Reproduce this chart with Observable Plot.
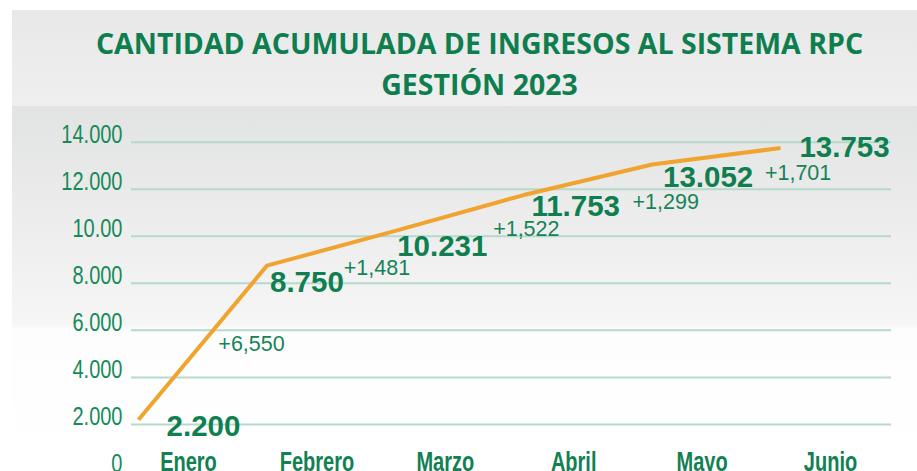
<!DOCTYPE html>
<html><head><meta charset="utf-8">
<script src="https://cdn.jsdelivr.net/npm/d3@7"></script>
<script src="https://cdn.jsdelivr.net/npm/@observablehq/plot@0.6"></script>
<style>
body{margin:0;background:#fff;}
#wrap{position:relative;width:917px;height:471px;overflow:hidden;background:#fff;}
#title{position:absolute;left:12px;top:10px;width:905px;height:96px;background:linear-gradient(#e8e8e8,#efefef);}
#title div{padding:12.7px 0 0 30px;text-align:center;font:bold 28.5px/41px "Open Sans",sans-serif;color:#0f7e4f;}
#chart{position:absolute;left:0;top:106px;width:917px;height:365px;}
#bg{position:absolute;left:12px;top:0;right:0;bottom:0;background:linear-gradient(to bottom,#e2e3e3 0px,#ececec 110px,#f6f6f6 219px,#fdfdfd 223px,#ffffff 365px);}
#plot{position:absolute;left:0;top:0;}
</style></head>
<body>
<div id="wrap">
  <div id="title"><div>CANTIDAD ACUMULADA DE INGRESOS AL SISTEMA RPC<br>GESTIÓN 2023</div></div>
  <div id="chart"><div id="bg"></div><div id="plot"></div></div>
</div>
<script>
const months = ["Enero", "Febrero", "Marzo", "Abril", "Mayo", "Junio"];
const values = [2200, 8750, 10231, 11753, 13052, 13753];
const valueLabels = ["2.200", "8.750", "10.231", "11.753", "13.052", "13.753"];
const deltaLabels = ["+6,550", "+1,481", "+1,522", "+1,299", "+1,701"];
const yTicks = [0, 2000, 4000, 6000, 8000, 10000, 12000, 14000];
const yTickLabels = ["0", "2.000", "4.000", "6.000", "8.000", "10.00", "12.000", "14.000"];
const gridTicks = yTicks.slice(1);

// label placement nudges (px), relative to each label's data anchor
const valueLabelNudge = [[15, 7], [-10, 17], [-3, 16], [2, 11], [6, 13], [14, 0]];
const deltaLabelNudge = [[63, -76], [60, 2], [81, -2], [92, 7], [96, 9]];

const rows = months.map((m, i) => ({i, month: m, value: values[i], label: valueLabels[i]}));
// each increment is anchored at the month it starts from
const deltas = deltaLabels.map((t, i) => ({i, value: values[i], text: t}));

const green = "#0f7f50";
const plot = Plot.plot({
  width: 917, height: 365,
  marginLeft: 131, marginRight: 26, marginTop: 35.7, marginBottom: 0,
  style: {background: "transparent", fontFamily: "'Liberation Sans', Arial, sans-serif", overflow: "visible"},
  x: {type: "linear", domain: [0, months.length - 1], insetLeft: 57, insetRight: 61},
  y: {type: "linear", domain: [0, 14000]},
  marks: [
    Plot.ruleY(gridTicks, {stroke: "#b5dacb", strokeWidth: 2}),
    Plot.axisY({ticks: yTicks, tickFormat: d => yTickLabels[yTicks.indexOf(d)], tickSize: 0, tickPadding: 9, dy: -8, fontSize: 20, color: "#168a59", label: null}),
    Plot.axisX({ticks: d3.range(months.length), tickFormat: i => months[i], tickSize: 0, tickPadding: 0, lineAnchor: "bottom", dy: -1, fontSize: 20, fontWeight: "bold", color: "#128052", label: null}),
    Plot.line(rows, {x: "i", y: "value", stroke: "#f0a32f", strokeWidth: 4, dx: -50, strokeLinejoin: "miter", strokeLinecap: "butt"}),
    ...rows.map((r, k) => Plot.text([r], {x: "i", y: "value", text: "label", dx: valueLabelNudge[k][0], dy: valueLabelNudge[k][1], fontSize: 29.5, fontWeight: "bold", fill: green, ariaLabel: "value label"})),
    ...deltas.map((r, k) => Plot.text([r], {x: "i", y: "value", text: "text", dx: deltaLabelNudge[k][0], dy: deltaLabelNudge[k][1], fontSize: 21.5, fill: "#148457", ariaLabel: "increment label"}))
  ]
});
document.getElementById("plot").appendChild(plot);
const stretch = (sel, k) => plot.querySelectorAll(sel).forEach(t => t.setAttribute("transform", (t.getAttribute("transform") || "") + ` scale(1,${k})`));
stretch('g[aria-label="y-axis tick label"] text', 1.33);
stretch('g[aria-label="x-axis tick label"] text', 1.4);
stretch('g[aria-label="increment label"] text', 1.12);
</script>
</body></html>
